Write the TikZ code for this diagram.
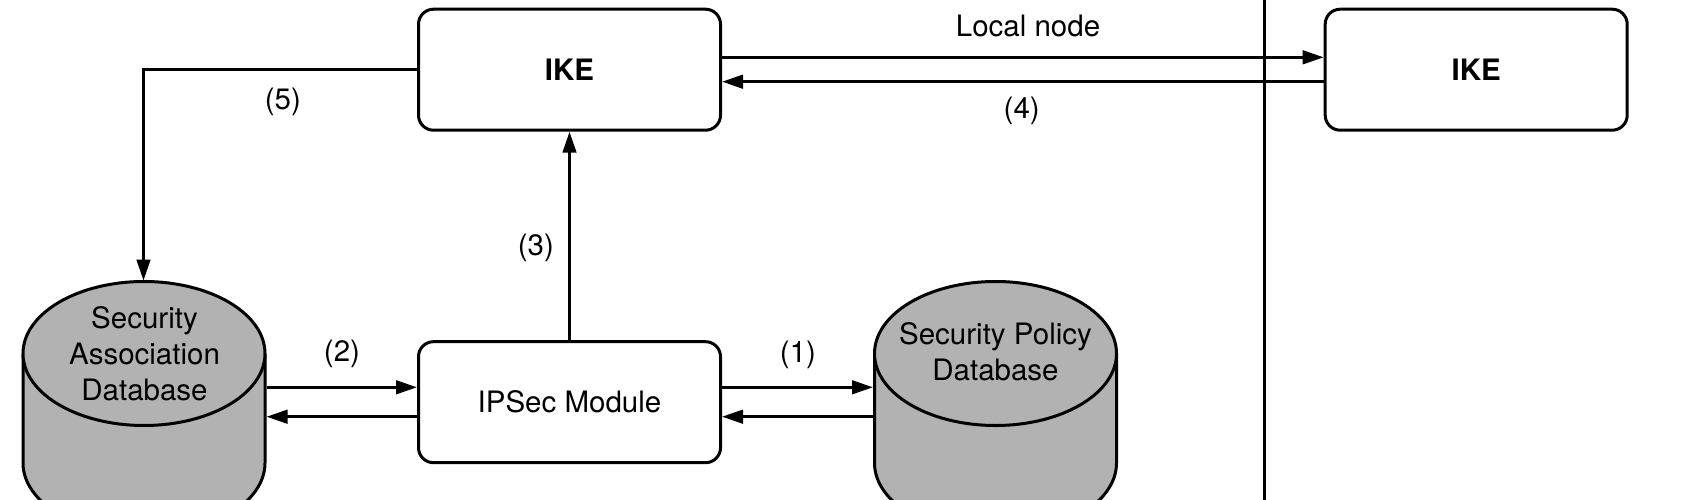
\documentclass[tikz,border=0pt]{standalone}
\usepackage{fontspec}
\setmainfont{TeX Gyre Heros}
\usetikzlibrary{arrows.meta}
\definecolor{dbgray}{RGB}{178,178,178}
\begin{document}
\begin{tikzpicture}[x=1pt,y=-1pt,
  txt/.style={font=\fontsize{29.5}{36}\selectfont},
  boldtxt/.style={font=\fontsize{29.5}{36}\selectfont\bfseries},
  box/.style={draw, line width=3pt, rounded corners=15pt, minimum width=302pt, minimum height=121pt, inner sep=0pt},
  lbl/.style={txt, inner sep=0pt},
  arr/.style={line width=3pt, -{Triangle[length=21pt,width=13.5pt]}},
  wire/.style={line width=3pt},
  db/.style={line width=3pt, draw=black, fill=dbgray}]
\useasboundingbox (0,0) rectangle (1701,500);
\clip (0,0) rectangle (1701,500);

% separator between local and remote node
\coordinate (septop) at (1264.5,0);
\coordinate (sepbot) at (1264.5,500);
\draw[wire] (septop) -- (sepbot);

% Security Association Database (cylinder)
\path[db] (23,353.5) -- (23,463) arc[start angle=180,end angle=360,x radius=121pt,y radius=72pt] -- (265,353.5);
\path[db] (144,353.5) ellipse [x radius=121pt, y radius=72pt];
\node[txt, align=center, inner sep=0pt] (sad) at (144.5,353.5) {Security\\Association\\Database};
\coordinate (sadN) at (143.5,280.6);
\coordinate (sadE) at (266.5,402.2);

% Security Policy Database (cylinder)
\path[db] (874.5,353.5) -- (874.5,463) arc[start angle=180,end angle=360,x radius=121pt,y radius=72pt] -- (1116.5,353.5);
\path[db] (995.5,353.5) ellipse [x radius=121pt, y radius=72pt];
\node[txt, align=center, inner sep=0pt] (spd) at (995.5,352) {Security Policy\\Database};
\coordinate (spdW) at (873,402.2);

% boxes
\node[box, boldtxt] (ike1) at (569.5,69.7) {IKE};
\node[box, boldtxt] (ike2) at (1476.2,69.7) {IKE};
\node[box, txt] (ipsec) at (569.5,402.2) {IPSec Module};

% connectors
\draw[arr] ([yshift=12.4pt]ike1.east) -- ([yshift=12.4pt]ike2.west);
\draw[arr] ([yshift=-12pt]ike2.west) -- ([yshift=-12pt]ike1.east);
\draw[arr] (ipsec.north) -- (ike1.south);
\draw[arr] (ike1.west) -| (sadN);
\draw[arr] ([yshift=14.9pt]sadE) -- ([yshift=14.9pt]ipsec.west);
\draw[arr] ([yshift=-14.5pt]ipsec.west) -- ([yshift=-14.5pt]sadE);
\draw[arr] ([yshift=14.9pt]ipsec.east) -- ([yshift=14.9pt]spdW);
\draw[arr] ([yshift=-14.5pt]spdW) -- ([yshift=-14.5pt]ipsec.east);

% labels
\node[lbl] (lblocal) at (1028,26) {Local node};
\node[lbl] (lbl4) at (1021.7,110.5) {(4)};
\node[lbl] (lbl5) at (282.8,102) {(5)};
\node[lbl] (lbl3) at (535.8,247.5) {(3)};
\node[lbl] (lbl2) at (342,353.5) {(2)};
\node[lbl] (lbl1) at (798,355) {(1)};
\end{tikzpicture}
\end{document}
